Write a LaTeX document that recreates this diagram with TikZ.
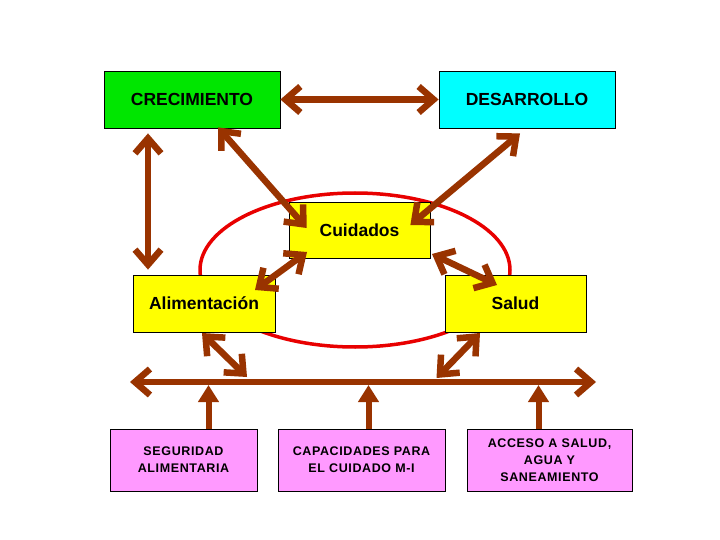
\documentclass[tikz,border=0pt]{standalone}
\usepackage{fontspec}
\setmainfont{Liberation Sans}
\usetikzlibrary{arrows.meta,calc}
\definecolor{brn}{HTML}{993300}
\definecolor{grn}{HTML}{00E600}
\definecolor{cyn}{HTML}{00FFFF}
\definecolor{ylw}{HTML}{FFFF00}
\definecolor{pnk}{HTML}{FF99FF}
\definecolor{rd}{HTML}{E80000}
\begin{document}
\begin{tikzpicture}[x=1pt,y=-1pt,
  box/.style={draw=black, line width=0.8pt, inner sep=0pt, align=center,
    font=\fontsize{17.5}{20}\selectfont\bfseries},
  pbox/.style={box, fill=pnk, minimum height=62pt,
    font=\fontsize{12.5}{17}\selectfont\bfseries\addfontfeature{LetterSpace=5}},
  conn/.style={draw=brn, line width=6.5pt,
    arrows={Straight Barb[length=15pt,width=26pt]-Straight Barb[length=15pt,width=26pt]}},
  upconn/.style={draw=brn, line width=6pt,
    arrows={-Triangle[length=17pt,width=20pt]}}]
\useasboundingbox (0,0) rectangle (720,540);
\fill[white] (0,0) rectangle (720,540);
% ellipse
\draw[rd, line width=3.5pt] (355,270) ellipse [x radius=155, y radius=77];
% nodes
\node[box, fill=grn, minimum width=176pt, minimum height=57pt] (cre) at (192,99.5) {CRECIMIENTO};
\node[box, fill=cyn, minimum width=176pt, minimum height=57pt] (des) at (527,99.5) {DESARROLLO};
\node[box, fill=ylw, minimum width=141pt, minimum height=56pt] (cui) at (359.5,230) {Cuidados};
\node[box, fill=ylw, minimum width=142pt, minimum height=57pt] (ali) at (204,303.5) {Alimentación};
\node[box, fill=ylw, minimum width=141pt, minimum height=57pt] (sal) at (515.5,303.5) {Salud};
\node[pbox, minimum width=147pt] (seg) at (183.5,460) {SEGURIDAD\\ALIMENTARIA};
\node[pbox, minimum width=167pt] (cap) at (361.5,460) {CAPACIDADES PARA\\EL CUIDADO M-I};
\node[pbox, minimum width=165pt] (acc) at (549.5,460) {ACCESO A SALUD,\\AGUA Y\\SANEAMIENTO};
% coordinates of the bar
\coordinate (barL) at (130,382);
\coordinate (barR) at (596,382);
% connectors
\draw[conn] (cre.east) -- (des.west);
\draw[conn] ($(cre.south)+(-44,5)$) -- ($(ali.north)+(-56,-5)$);
\draw[conn] ($(cre.south)+(26,-1)$) -- ($(cui.west)+(18,-2)$);
\draw[conn] ($(des.south)+(-7,5)$) -- ($(cui.east)+(-20,-5)$);
\draw[conn] ($(ali.center)+(51,-13.5)$) -- ($(cui.center)+(-52.5,22)$);
\draw[conn] ($(cui.center)+(72.5,24)$) -- ($(sal.center)+(-18.5,-18.5)$);
\draw[conn] ($(ali.center)+(-2,29.5)$) -- ($(ali.center)+(43,73.5)$);
\draw[conn] ($(sal.center)+(-35.5,29.5)$) -- ($(sal.center)+(-79,74.5)$);
\draw[conn] (barL) -- (barR);
\draw[upconn] ($(seg.north)+(25,0)$) -- ($(seg.north |- barL)+(25,3)$);
\draw[upconn] ($(cap.north)+(7,0)$) -- ($(cap.north |- barL)+(7,3)$);
\draw[upconn] ($(acc.north)+(-11,0)$) -- ($(acc.north |- barL)+(-11,3)$);
\end{tikzpicture}
\end{document}
